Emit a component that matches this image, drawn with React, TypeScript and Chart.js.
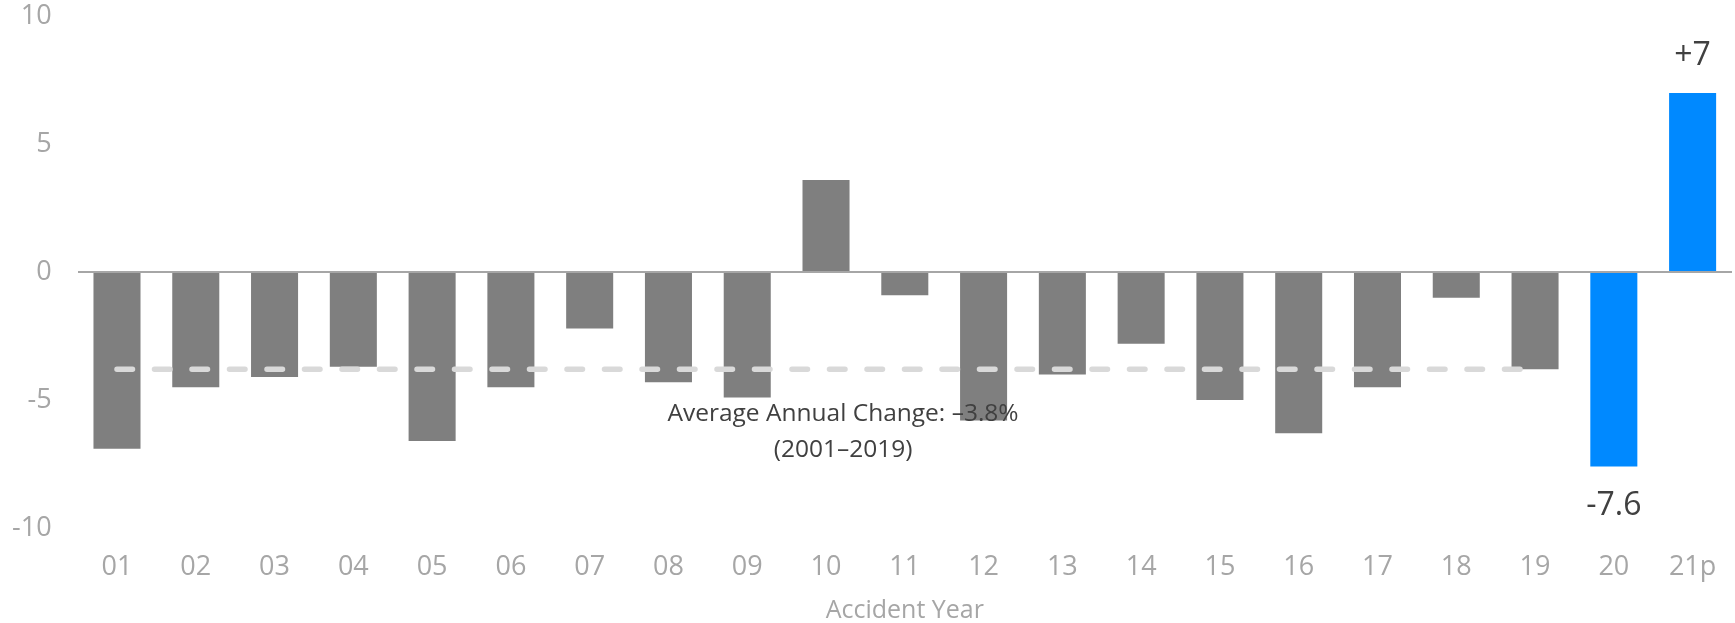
import { useEffect, useRef } from 'react';
import { Chart, registerables } from 'chart.js';

Chart.register(...registerables);

// Accident years on the category axis
const years = ['01', '02', '03', '04', '05', '06', '07', '08', '09', '10', '11', '12', '13', '14', '15', '16', '17', '18', '19', '20', '21p'];

// Annual change per accident year
const changes = [-6.9, -4.5, -4.1, -3.7, -6.6, -4.5, -2.2, -4.3, -4.9, 3.6, -0.9, -5.8, -4.0, -2.8, -5.0, -6.3, -4.5, -1.0, -3.8, -7.6, 7];

// 2001–2019 average, drawn as a dashed reference line across those years
const averageLine = [-3.8, -3.8, -3.8, -3.8, -3.8, -3.8, -3.8, -3.8, -3.8, -3.8, -3.8, -3.8, -3.8, -3.8, -3.8, -3.8, -3.8, -3.8, -3.8, null, null];

// Years shown in blue and labelled with their value
const highlighted = ['20', '21p'];

// Value-axis ticks
const yTicks = [-10, -5, 0, 5, 10];

// Note under the average line
const averageNote = ['Average Annual Change: \u20133.8%', '(2001\u20132019)'];
const averageValue = -3.8;

const FONT = '"Open Sans", sans-serif';
const GREY_BAR = '#7f7f7f';
const BLUE_BAR = '#0089ff';
const AXIS_TEXT = '#a6a6a6';
const DARK_TEXT = '#404040';

const signed = (v: number) => (v > 0 ? `+${v}` : `${v}`);

const valueLabels = {
  id: 'valueLabels',
  afterDatasetsDraw(chart: any) {
    const ctx = chart.ctx;
    const meta = chart.getDatasetMeta(0);
    ctx.save();
    ctx.font = `32px ${FONT}`;
    ctx.fillStyle = DARK_TEXT;
    ctx.textAlign = 'center';
    ctx.textBaseline = 'alphabetic';
    meta.data.forEach((bar: any, i: number) => {
      if (!highlighted.includes(years[i])) return;
      const v = changes[i];
      const y = v >= 0 ? bar.y - 28 : bar.y + 48;
      ctx.fillText(signed(v), bar.x, y);
    });
    ctx.restore();
  },
};

const averageLabel = {
  id: 'averageLabel',
  afterDatasetsDraw(chart: any) {
    const { ctx, scales } = chart;
    const step = scales.x.width / years.length;
    const x = scales.x.getPixelForValue(9) + 0.216 * step;
    const yAvg = scales.y.getPixelForValue(averageValue);
    ctx.save();
    ctx.font = `24.5px ${FONT}`;
    ctx.fillStyle = DARK_TEXT;
    ctx.textAlign = 'center';
    ctx.textBaseline = 'alphabetic';
    ctx.fillText(averageNote[0], x, yAvg + 51.4);
    ctx.fillText(averageNote[1], x, yAvg + 87.4);
    ctx.restore();
  },
};

export default function App() {
  const canvasRef = useRef<HTMLCanvasElement | null>(null);

  useEffect(() => {
    if (!canvasRef.current) return;
    const chart = new Chart(canvasRef.current, {
      type: 'bar',
      data: {
        labels: years,
        datasets: [
          {
            type: 'bar',
            data: changes,
            backgroundColor: years.map((y) => (highlighted.includes(y) ? BLUE_BAR : GREY_BAR)),
            borderWidth: 0,
            categoryPercentage: 1,
            barPercentage: 0.597,
            order: 1,
          },
          {
            type: 'line',
            data: averageLine,
            borderColor: '#d9d9d9',
            borderWidth: 5.5,
            borderDash: [15.5, 22],
            borderCapStyle: 'round',
            pointRadius: 0,
            fill: false,
            spanGaps: false,
            order: 0,
          },
        ],
      } as any,
      options: {
        animation: false,
        responsive: false,
        devicePixelRatio: 1,
        layout: { padding: { left: 0, right: 3, top: 0, bottom: 0 } },
        plugins: {
          legend: { display: false },
          tooltip: { enabled: false },
        },
        scales: {
          x: {
            grid: {
              display: true,
              drawOnChartArea: false,
              drawTicks: true,
              tickLength: 23,
              color: 'transparent',
              tickColor: 'transparent',
            },
            border: { display: false },
            ticks: {
              color: AXIS_TEXT,
              font: { family: FONT, size: 27 },
              padding: 0,
              maxRotation: 0,
              autoSkip: false,
            },
            title: {
              display: true,
              text: 'Accident Year',
              color: AXIS_TEXT,
              font: { family: FONT, size: 25, lineHeight: 1 },
              padding: { top: 0, bottom: 0 },
            },
            afterFit: (s: any) => {
              s.height = 95;
            },
          },
          y: {
            min: -10,
            max: 10,
            z: 1,
            afterBuildTicks: (s: any) => {
              s.ticks = yTicks.map((value) => ({ value }));
            },
            ticks: {
              color: AXIS_TEXT,
              font: { family: FONT, size: 27 },
              padding: 0,
            },
            grid: {
              color: (c: any) => (c.tick && c.tick.value === 0 ? '#a6a6a6' : 'transparent'),
              lineWidth: 2,
              drawTicks: true,
              tickLength: 26,
              tickColor: 'transparent',
            },
            border: { display: false },
            afterFit: (s: any) => {
              s.width = 77.6;
            },
          },
        },
      } as any,
      plugins: [valueLabels, averageLabel],
    });
    return () => chart.destroy();
  }, []);

  return (
    <div style={{ position: 'fixed', left: 0, top: 0, width: 1735, height: 623, background: '#fff' }}>
      <canvas ref={canvasRef} width={1735} height={623} style={{ display: 'block' }} />
    </div>
  );
}
